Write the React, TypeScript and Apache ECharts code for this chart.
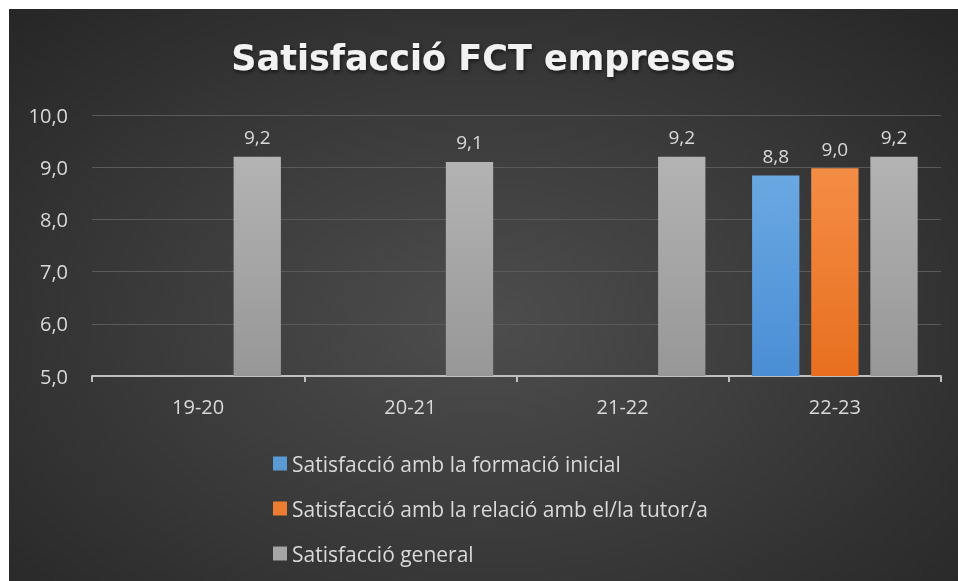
import React, { useEffect, useRef } from "react";
import * as echarts from "echarts";

const categories = ["19-20", "20-21", "21-22", "22-23"];
const seriesNames = [
  "Satisfacció amb la formació inicial",
  "Satisfacció amb la relació amb el/la tutor/a",
  "Satisfacció general",
];
const formacioInicial: (number | null)[] = [null, null, null, 8.84];
const relacioTutor: (number | null)[] = [null, null, null, 8.98];
const general: (number | null)[] = [9.2, 9.1, 9.2, 9.2];
const yTicks = { min: 5, max: 10, interval: 1 };

const fmt = (v: number) => v.toFixed(1).replace(".", ",");

function grad(top: string, bottom: string) {
  return new echarts.graphic.LinearGradient(0, 0, 0, 1, [
    { offset: 0, color: top },
    { offset: 1, color: bottom },
  ]);
}

export default function App() {
  const ref = useRef<HTMLDivElement>(null);
  useEffect(() => {
    document.body.style.overflow = "hidden";
    const chart = echarts.init(ref.current!, undefined, { renderer: "svg" });
    const font = "'Open Sans', sans-serif";
    const labelStyle = {
      show: true,
      position: "top" as const,
      distance: 10,
      color: "#d9d9d9",
      fontSize: 19,
      fontFamily: font,
      formatter: (p: any) => fmt(p.value),
    };
    const data = [formacioInicial, relacioTutor, general];
    const colors = [
      ["#6aa8e2", "#4a8ed5"],
      ["#f48d45", "#e86f1f"],
      ["#b3b3b3", "#979797"],
    ];
    const legendColors = ["#5b9bd5", "#ed7d31", "#a5a5a5"];
    chart.setOption({
      animation: false,
      backgroundColor: "transparent",
      title: {
        text: "Satisfacció FCT empreses",
        left: "center",
        top: 26,
        textStyle: {
          color: "#f2f2f2",
          fontSize: 35,
          fontWeight: "bold",
          fontFamily: "'DejaVu Sans', sans-serif",
          textShadowColor: "rgba(0,0,0,0.6)",
          textShadowBlur: 4,
          textShadowOffsetX: 1,
          textShadowOffsetY: 2,
        },
      },
      grid: { left: 83, right: 17, top: 106, bottom: 205, containLabel: false },
      legend: {
        orient: "vertical",
        left: 259,
        top: 439,
        itemWidth: 14,
        itemHeight: 14,
        itemGap: 24,
        icon: "rect",
        textStyle: { color: "#d9d9d9", fontSize: 21, fontFamily: font, lineHeight: 21 },
        data: seriesNames.map((n, i) => ({ name: n, itemStyle: { color: legendColors[i] } })),
      },
      xAxis: {
        type: "category",
        data: categories,
        axisLine: { show: true, lineStyle: { color: "#bfbfbf", width: 2 } },
        axisTick: { show: true, length: 6, lineStyle: { color: "#bfbfbf", width: 2 } },
        axisLabel: { color: "#d9d9d9", fontSize: 20, fontFamily: font, margin: 20 },
      },
      yAxis: {
        type: "value",
        min: yTicks.min,
        max: yTicks.max,
        interval: yTicks.interval,
        axisLine: { show: false },
        axisTick: { show: false },
        axisLabel: {
          color: "#d9d9d9",
          fontSize: 20,
          fontFamily: font,
          margin: 24,
          formatter: (v: number) => fmt(v),
        },
        splitLine: { lineStyle: { color: "#5a5a5a", width: 1 } },
      },
      series: seriesNames.map((name, i) => ({
        name,
        type: "bar",
        data: data[i],
        barGap: "25%",
        barCategoryGap: "22%",
        itemStyle: { color: grad(colors[i][0], colors[i][1]) },
        label: labelStyle,
      })),
    });
    return () => chart.dispose();
  }, []);
  return (
    <div
      ref={ref}
      style={{
        position: "fixed",
        left: 9,
        top: 9,
        width: 949,
        height: 572,
        background:
          "radial-gradient(ellipse at 50% 55%, #4d4d4d 0%, #3c3c3c 45%, #262626 100%)",
      }}
    />
  );
}
